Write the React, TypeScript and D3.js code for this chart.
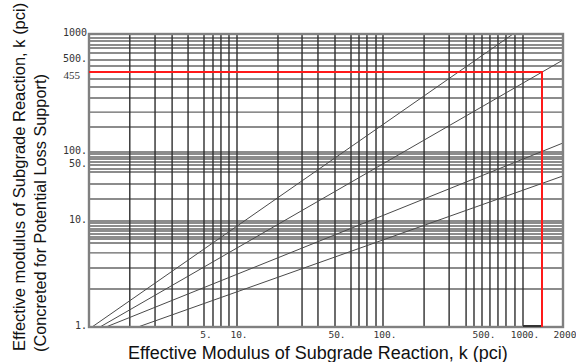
import React from "react";
import * as d3 from "d3";

// ---------------- DATA ----------------
// Axis knots (values where the picture's labels sit)
const xKnots = [1, 5, 10, 50, 100, 500, 1000, 2000];
const yKnots = [1, 10, 50, 100, 455, 500, 1000];

const xTickValues = [5, 10, 50, 100, 500, 1000, 2000];
const xTickLabels = ["5.", "10.", "50.", "100.", "500.", "1000.", "2000"];
const yTickValues = [1, 10, 50, 100, 500, 1000];
const yTickLabels = ["1.", "10.", "50.", "100.", "500.", "1000"];

// Grid lines
const xGridValues = [
  1.77, 2.52, 3.2, 4.0, 5, 6.04, 7.14, 8.45, 10,
  19.6, 29.1, 37.8, 50, 63, 70.7, 79.3, 90.4, 100,
  195, 293, 386, 439, 500, 572, 655, 750, 873, 1000,
];
const yGridValues = [
  2.28, 3.6, 5.0, 6.2, 6.77, 7.06, 7.54, 8.05, 8.4, 8.97, 9.57, 10,
  18.8, 28.9, 40.9, 44.6, 50, 58.7, 68.9, 76.6, 89.9, 100,
  160.6, 213, 278, 342, 398, 477, 500, 602, 688, 746, 830, 899,
];

// Loss-of-support lines (start / end points, in k units)
const lineStartX = [1.043, 1.166, 1.269, 1.985];
const lineStartY = [1, 1, 1, 1];
const lineEndX = [845, 2000, 2000, 2000];
const lineEndY = [1000, 500, 118.6, 36.5];

// Reading shown in red
const readingK = 1390;
const readingKEff = 455;
const readingLabel = "455";

const xTitle = "Effective Modulus of Subgrade Reaction, k (pci)";
const yTitle1 = "Effective modulus of Subgrade Reaction, k (pci)";
const yTitle2 = "(Concreted for Potential Loss Support)";

// ---------------- LAYOUT ----------------
const W = 576;
const H = 362;
const xKnotPx = [89, 204, 237, 335, 383, 482, 523, 563];
const yKnotPx = [327, 221, 165, 152, 72, 60, 34];

export default function App() {
  const x = d3.scaleLog().domain(xKnots).range(xKnotPx);
  const y = d3.scaleLog().domain(yKnots).range(yKnotPx);
  const x0 = x(xKnots[0]);
  const x1 = x(xKnots[xKnots.length - 1]);
  const y0 = y(yKnots[0]);
  const y1 = y(yKnots[yKnots.length - 1]);

  const lineGen = d3
    .line<[number, number]>()
    .x((d) => x(d[0]))
    .y((d) => y(d[1]));

  const sans = "'Liberation Sans', Arial, sans-serif";
  const mono = "'DejaVu Sans Mono', monospace";

  return (
    <svg
      width={W}
      height={H}
      viewBox={`0 0 ${W} ${H}`}
      style={{ position: "absolute", left: 0, top: 0, background: "#fff" }}
    >
      <rect x={0} y={0} width={W} height={H} fill="#fff" />
      {/* horizontal grid */}
      {yGridValues.map((v, i) => (
        <line
          key={"hy" + i}
          x1={x0}
          x2={x1}
          y1={y(v)}
          y2={y(v)}
          stroke="#666"
          strokeWidth={1.4}
        />
      ))}
      {/* vertical grid */}
      {xGridValues.map((v, i) => (
        <line
          key={"vx" + i}
          x1={x(v)}
          x2={x(v)}
          y1={y0}
          y2={y1}
          stroke="#2e2e2e"
          strokeWidth={1.4}
        />
      ))}
      {/* diagonal lines */}
      {lineStartX.map((sx, i) => (
        <path
          key={"ln" + i}
          d={
            lineGen([
              [sx, lineStartY[i]],
              [lineEndX[i], lineEndY[i]],
            ]) || ""
          }
          fill="none"
          stroke="#4a4a4a"
          strokeWidth={1}
        />
      ))}
      {/* frame */}
      <rect
        x={x0}
        y={y1}
        width={x1 - x0}
        height={y0 - y1}
        fill="none"
        stroke="#808080"
        strokeWidth={2.4}
      />
      <line
        x1={x(1000)}
        x2={x(readingK)}
        y1={y0 - 1}
        y2={y0 - 1}
        stroke="#333"
        strokeWidth={2}
      />
      {/* red reading */}
      <path
        d={
          lineGen([
            [xKnots[0], readingKEff],
            [readingK, readingKEff],
            [readingK, yKnots[0]],
          ]) || ""
        }
        fill="none"
        stroke="#ff1a1a"
        strokeWidth={2}
      />
      {/* x tick labels */}
      {xTickValues.map((v, i) => (
        <text
          key={"xt" + i}
          x={x(v) + 2}
          y={y0 + 11}
          textAnchor="middle"
          fontFamily={mono}
          fontSize={9.5}
          fill="#333"
        >
          {xTickLabels[i]}
        </text>
      ))}
      {/* y tick labels */}
      {yTickValues.map((v, i) => (
        <text
          key={"yt" + i}
          x={x0 - 2}
          y={y(v) + 2}
          textAnchor="end"
          fontFamily={mono}
          fontSize={10}
          fill="#333"
        >
          {yTickLabels[i]}
        </text>
      ))}
      <text
        x={x0 - 9}
        y={y(readingKEff) + 7}
        textAnchor="end"
        fontFamily="'Liberation Serif', serif"
        fontSize={11}
        fill="#333"
      >
        {readingLabel}
      </text>
      {/* titles */}
      <text x={128} y={359} fontFamily={sans} fontSize={18} fill="#111">
        {xTitle}
      </text>
      <text
        transform="translate(25,351) rotate(-90)"
        fontFamily={sans}
        fontSize={16.5}
        fill="#111"
      >
        {yTitle1}
      </text>
      <text
        transform="translate(46,352) rotate(-90)"
        fontFamily={sans}
        fontSize={16.3}
        fill="#111"
      >
        {yTitle2}
      </text>
    </svg>
  );
}
